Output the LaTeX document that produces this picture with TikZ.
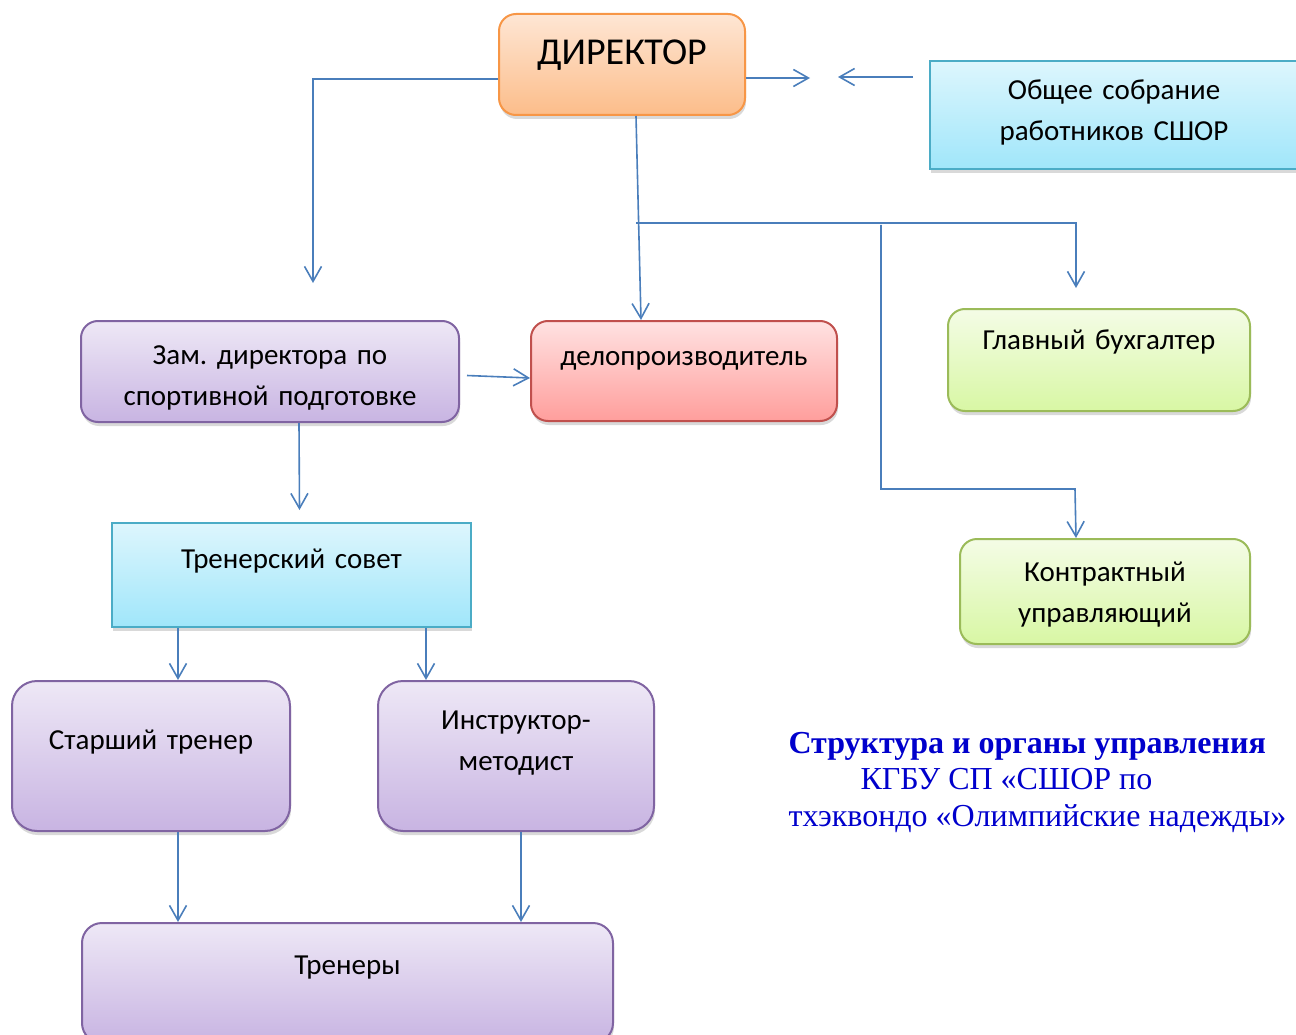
\documentclass[tikz,border=0pt]{standalone}
\usepackage{fontspec}
\setmainfont{Carlito}
\newfontfamily\titlefont{Liberation Serif}
\frenchspacing
\usetikzlibrary{arrows.meta, shadows}
\definecolor{linkblue}{HTML}{4A7EBB}
\definecolor{titleblue}{HTML}{0000CC}
\definecolor{orline}{HTML}{F79646}
\definecolor{ortop}{HTML}{FEE6D4}
\definecolor{orbot}{HTML}{FCBD8A}
\definecolor{cyline}{HTML}{4BACC6}
\definecolor{cytop}{HTML}{DDF6FD}
\definecolor{cybot}{HTML}{A0E6FA}
\definecolor{puline}{HTML}{8064A2}
\definecolor{putop}{HTML}{EEE8F6}
\definecolor{pubot}{HTML}{C8B4E2}
\definecolor{reline}{HTML}{C0504D}
\definecolor{retop}{HTML}{FFE2E2}
\definecolor{rebot}{HTML}{FF9E9C}
\definecolor{grline}{HTML}{9BBB59}
\definecolor{grtop}{HTML}{F4FCE6}
\definecolor{grbot}{HTML}{D8F7A4}
\tikzset {
    >={Straight Barb[length=15pt, width=17pt]},
    link/.style={->, draw=linkblue, line width=1.6pt},
    box/.style={draw, line width=2pt, inner sep=0pt, align=center, anchor=north west,
        font=\fontsize{29}{41}\selectfont,
        drop shadow={shadow xshift=1pt, shadow yshift=-4pt, opacity=0.3}},
    orangebox/.style={box, draw=orline, top color=ortop, bottom color=orbot},
    cyanbox/.style={box, draw=cyline, top color=cytop, bottom color=cybot},
    purplebox/.style={box, draw=puline, top color=putop, bottom color=pubot},
    redbox/.style={box, draw=reline, top color=retop, bottom color=rebot},
    greenbox/.style={box, draw=grline, top color=grtop, bottom color=grbot}
}

\begin{document}
\begin{tikzpicture}[x=1pt, y=-1pt]
    \useasboundingbox (0,0) rectangle (1296,1035);
    \clip (0,0) rectangle (1296,1035);

    \node[orangebox, rounded corners=17pt, text width=246pt, text height=51pt, text depth=50pt,
        font=\fontsize{38}{41}\selectfont] (dir) at (498,13) {ДИРЕКТОР};
    \node[cyanbox, text width=368pt, text height=39pt, text depth=69pt] (ob) at (929,60)
        {Общее собрание\\работников СШОР};
    \node[purplebox, rounded corners=17pt, text width=378pt, text height=43pt, text depth=58pt] (zam) at (80,320)
        {Зам. директора по\\спортивной подготовке};
    \node[redbox, rounded corners=17pt, text width=306pt, text height=44pt, text depth=56pt] (dp) at (530,320)
        {делопроизводитель};
    \node[greenbox, rounded corners=17pt, text width=302pt, text height=40pt, text depth=62pt] (gb) at (947,308)
        {Главный бухгалтер};
    \node[cyanbox, text width=359pt, text height=45pt, text depth=59pt] (ts) at (111,522)
        {Тренерский совет};
    \node[greenbox, rounded corners=17pt, text width=290pt, text height=42pt, text depth=63pt] (kt) at (959,538)
        {Контрактный\\управляющий};
    \node[purplebox, rounded corners=25pt, text width=278pt, text height=68pt, text depth=82pt] (st) at (11,680)
        {Старший тренер};
    \node[purplebox, rounded corners=25pt, text width=276pt, text height=48pt, text depth=102pt] (ins) at (377,680)
        {Инструктор-\\методист};
    \node[purplebox, rounded corners=20pt, text width=531pt, text height=51pt, text depth=69pt] (tr) at (81,922)
        {Тренеры};

    \node[anchor=base west, align=left, text=titleblue, font=\titlefont\fontsize{32}{36.5}\selectfont] (title)
        at (785,826) {\textbf{Структура и органы управления}\\\hspace*{72pt}КГБУ СП «СШОР по\\тхэквондо «Олимпийские надежды»};

    \coordinate (zamIn) at (313,283);
    \coordinate (dirOut) at (810,78);
    \coordinate (obOut) at (838,77);
    \coordinate (split1) at (636,223);
    \coordinate (split2) at (881,225);
    \coordinate (ktBend) at (1075,489);

    \draw[link] ([yshift=-14.5pt]dir.west) -| (zamIn);
    \draw[link] ([yshift=-13.5pt]dir.east) -- (dirOut);
    \draw[link] ([shift={(-16pt,-17pt)}]ob.north west) -- (obOut);
    \draw[link] ([xshift=14pt]dir.south) -- ([xshift=-43pt]dp.north);
    \draw[link] (split1) -| ([shift={(-23pt,20pt)}]gb.north);
    \draw[link] (split2) |- (ktBend) -- ([xshift=-29pt]kt.north);
    \draw[link] ([shift={(7pt,-4pt)}]zam.east) -- ([yshift=-7pt]dp.west);
    \draw[link] ([xshift=29pt]zam.south) -- ([shift={(8pt,12pt)}]ts.north);
    \draw[link] ([xshift=27pt]st.north |- ts.south) -- ([xshift=27pt]st.north);
    \draw[link] ([xshift=-90pt]ins.north |- ts.south) -- ([xshift=-90pt]ins.north);
    \draw[link] ([xshift=27pt]st.south) -- ([xshift=27pt]st.south |- tr.north);
    \draw[link] ([xshift=5pt]ins.south) -- ([xshift=5pt]ins.south |- tr.north);
\end{tikzpicture}
\end{document}
